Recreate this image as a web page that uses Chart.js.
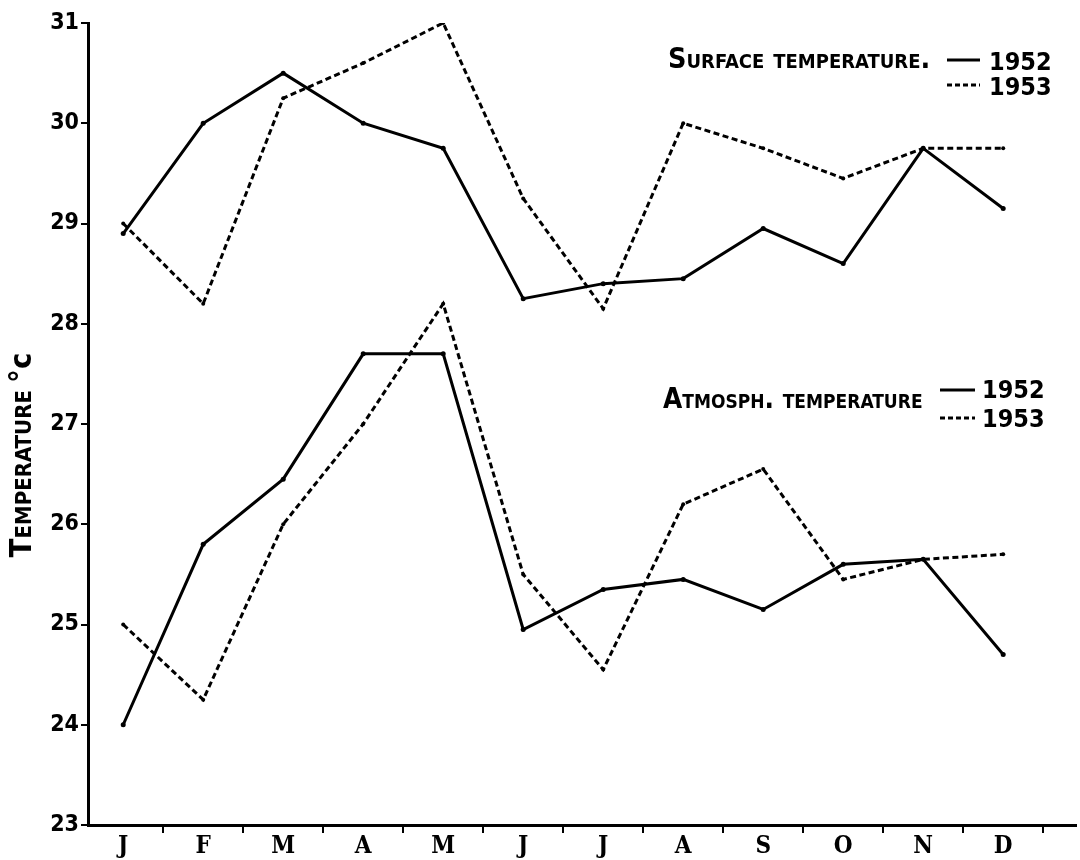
<!DOCTYPE html>
<html>
<head>
<meta charset="utf-8">
<script src="https://cdn.jsdelivr.net/npm/chart.js@4.4.1/dist/chart.umd.min.js"></script>
<style>
  html, body { margin: 0; padding: 0; background: #fff; }
  canvas { display: block; }
</style>
</head>
<body>
<canvas id="chart" width="1080" height="860"></canvas>
<script>
// Monthly mean temperatures (°C), 1952 and 1953
const months = ['J', 'F', 'M', 'A', 'M', 'J', 'J', 'A', 'S', 'O', 'N', 'D'];
const surface1952 = [28.9, 30.0, 30.5, 30.0, 29.75, 28.25, 28.4, 28.45, 28.95, 28.6, 29.75, 29.15];
const surface1953 = [29.0, 28.2, 30.25, 30.6, 31.0, 29.25, 28.15, 30.0, 29.75, 29.45, 29.75, 29.75];
const atmos1952   = [24.0, 25.8, 26.45, 27.7, 27.7, 24.95, 25.35, 25.45, 25.15, 25.6, 25.65, 24.7];
const atmos1953   = [25.0, 24.25, 26.0, 27.0, 28.2, 25.5, 24.55, 26.2, 26.55, 25.45, 25.65, 25.7];
const yTickValues = [23, 24, 25, 26, 27, 28, 29, 30, 31];
const years = ['1952', '1953'];
const yTitleWord = 'Temperature';
const yTitleUnit = '°c';
const surfaceLabel = 'Surface temperature.';
const atmosLabel = 'Atmosph. temperature';

const INK = '#000';
const NUM_FONT = "'Liberation Sans Narrow', 'DejaVu Sans Condensed', 'DejaVu Sans', sans-serif";
const LETTER_FONT = "'DejaVu Serif Condensed', 'DejaVu Serif', serif";
const CAPS_FONT = "'DejaVu Sans Condensed', 'DejaVu Sans', sans-serif";

const toPoints = arr => arr.map((v, i) => ({ x: i + 1, y: v }));

const solid = { borderColor: INK, borderWidth: 3, pointRadius: 2.5, pointBackgroundColor: INK, pointBorderWidth: 0, tension: 0, fill: false };
const dashed = { borderColor: INK, borderWidth: 3, borderDash: [6, 3.5], pointRadius: 2, pointBackgroundColor: INK, pointBorderWidth: 0, tension: 0, fill: false };

// Text drawn on the canvas: axis title and the two key blocks
function fittedFont(ctx, text, tpl, width) {
  ctx.font = tpl(20);
  const w = ctx.measureText(text).width;
  return tpl(20 * width / w);
}

const annotations = {
  id: 'annotations',
  afterDraw(chart) {
    const ctx = chart.ctx;
    ctx.save();
    ctx.fillStyle = INK;
    ctx.strokeStyle = INK;

    // vertical axis title, read bottom to top, stretched to a set length
    ctx.save();
    ctx.translate(22, 455);
    ctx.rotate(-Math.PI / 2);
    ctx.textBaseline = 'alphabetic';
    ctx.textAlign = 'left';
    const wordFont = s => `small-caps bold ${s}px ${CAPS_FONT}`;
    const unitFont = s => `bold ${s}px ${CAPS_FONT}`;
    ctx.font = wordFont(20);
    let w1 = ctx.measureText(yTitleWord + ' ').width;
    ctx.font = unitFont(20);
    let w2 = ctx.measureText(yTitleUnit).width;
    const k = 205 / (w1 + w2);
    w1 *= k; w2 *= k;
    const x0 = -(w1 + w2) / 2;
    ctx.font = wordFont(20 * k);
    ctx.fillText(yTitleWord, x0, 9);
    ctx.font = unitFont(20 * k);
    ctx.fillText(yTitleUnit, x0 + w1, 9);
    ctx.restore();

    const key = (label, textLeft, textRight, baseline, lineX0, lineX1, ySolid, yDash, yearX, yearBase1, yearBase2) => {
      ctx.textAlign = 'left';
      ctx.textBaseline = 'alphabetic';
      ctx.font = fittedFont(ctx, label, s => `small-caps bold ${s}px ${CAPS_FONT}`, textRight - textLeft);
      ctx.fillText(label, textLeft, baseline);

      ctx.lineWidth = 3;
      ctx.setLineDash([]);
      ctx.beginPath(); ctx.moveTo(lineX0, ySolid); ctx.lineTo(lineX1, ySolid); ctx.stroke();
      ctx.setLineDash([5, 3]);
      ctx.beginPath(); ctx.moveTo(lineX0, yDash); ctx.lineTo(lineX1, yDash); ctx.stroke();
      ctx.setLineDash([]);

      ctx.font = `bold 25px ${NUM_FONT}`;
      ctx.fillText(years[0], yearX, yearBase1);
      ctx.fillText(years[1], yearX, yearBase2);
    };

    key(surfaceLabel, 668, 930, 68, 947, 980, 60, 85, 989, 70, 95);
    key(atmosLabel, 663, 927, 408, 940, 975, 390, 418, 982, 398, 427);
    ctx.restore();
  }
};

new Chart(document.getElementById('chart'), {
  type: 'line',
  data: {
    datasets: [
      { label: 'Surface 1952', data: toPoints(surface1952), ...solid },
      { label: 'Surface 1953', data: toPoints(surface1953), ...dashed },
      { label: 'Atmosph. 1952', data: toPoints(atmos1952), ...solid },
      { label: 'Atmosph. 1953', data: toPoints(atmos1953), ...dashed }
    ]
  },
  options: {
    responsive: false,
    animation: false,
    maintainAspectRatio: false,
    layout: { padding: { top: 23, right: 0, left: 0, bottom: 0 } },
    plugins: { legend: { display: false }, tooltip: { enabled: false }, title: { display: false } },
    scales: {
      x: {
        type: 'linear',
        min: 0.56,
        max: 12.91,
        afterBuildTicks(scale) {
          const ticks = [];
          months.forEach((m, i) => { ticks.push({ value: i + 1 }); ticks.push({ value: i + 1.5 }); });
          scale.ticks = ticks;
        },
        afterFit(scale) { scale.height = 35; },
        border: { display: true, color: INK, width: 3 },
        grid: {
          drawOnChartArea: false,
          drawTicks: true,
          tickLength: 8,
          lineWidth: 2,
          color: ctx => (ctx.tick && Number.isInteger(ctx.tick.value)) ? 'rgba(0,0,0,0)' : INK
        },
        ticks: {
          autoSkip: false,
          maxRotation: 0,
          padding: -1,
          color: INK,
          font: { family: LETTER_FONT, size: 24, weight: 'bold' },
          callback: v => Number.isInteger(v) ? months[v - 1] : ''
        }
      },
      y: {
        type: 'linear',
        min: 23,
        max: 31,
        afterBuildTicks(scale) { scale.ticks = yTickValues.map(v => ({ value: v })); },
        afterFit(scale) { scale.width = 88; },
        border: { display: true, color: INK, width: 3 },
        grid: { drawOnChartArea: false, drawTicks: true, tickLength: 7, lineWidth: 2, color: INK },
        ticks: {
          padding: 2,
          color: INK,
          font: { family: NUM_FONT, size: 23, weight: 'bold' },
          callback: v => String(v)
        }
      }
    }
  },
  plugins: [annotations]
});
</script>
</body>
</html>
